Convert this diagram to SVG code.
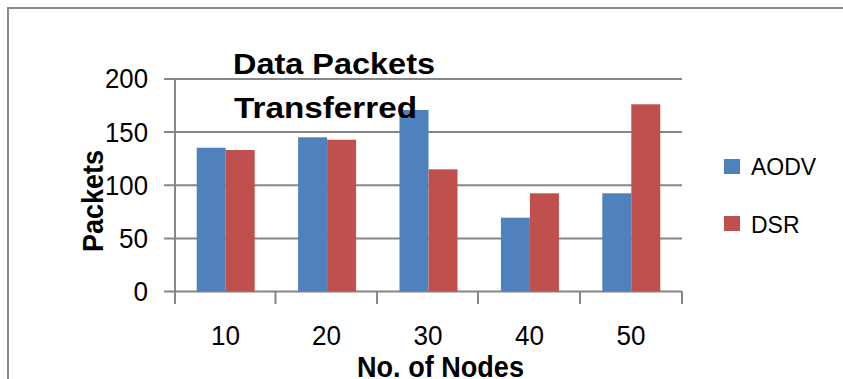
<svg xmlns="http://www.w3.org/2000/svg" width="843" height="379" viewBox="0 0 843 379">
<style>
text{font-family:"Liberation Sans",Arial,sans-serif;fill:#000}
.tick{font-size:28px}
.ytick{text-anchor:end}
.xtick{text-anchor:middle}
.bold{font-weight:bold;font-size:30px}
.leg{font-size:23px}
.grid{stroke:#868686;stroke-width:2;fill:none}
.aodv{fill:#4F81BD}
.dsr{fill:#C0504D}
</style>
<rect width="843" height="379" fill="#fff"/>
<rect x="8" y="8" width="850" height="390" fill="none" stroke="#8a8a8a" stroke-width="2"/>
<g id="grid">
<path class="grid" d="M164 79H682M164 132.1H682M164 185.2H682M164 238.4H682M164 291.5H682M175 79V304M275.5 291.5V304M377 291.5V304M478 291.5V304M580 291.5V304M682 291.5V304"/>
</g>
<g id="bars">
<rect class="aodv" x="196.7" y="147.7" width="29" height="143.8"/>
<rect class="dsr" x="225.7" y="150" width="29" height="141.5"/>
<rect class="aodv" x="298.1" y="137.3" width="29" height="154.2"/>
<rect class="dsr" x="327.1" y="139.7" width="29" height="151.8"/>
<rect class="aodv" x="399.5" y="110" width="29" height="181.5"/>
<rect class="dsr" x="428.5" y="169.3" width="29" height="122.2"/>
<rect class="aodv" x="500.9" y="217.7" width="29" height="73.8"/>
<rect class="dsr" x="529.9" y="193.3" width="29" height="98.2"/>
<rect class="aodv" x="602.3" y="193.3" width="29" height="98.2"/>
<rect class="dsr" x="631.3" y="104.3" width="29" height="187.2"/>
</g>
<g id="yticks" class="tick">
<text class="ytick" x="148" y="88" textLength="43" lengthAdjust="spacingAndGlyphs">200</text>
<text class="ytick" x="148" y="142" textLength="43" lengthAdjust="spacingAndGlyphs">150</text>
<text class="ytick" x="148" y="195" textLength="43" lengthAdjust="spacingAndGlyphs">100</text>
<text class="ytick" x="148" y="248" textLength="29" lengthAdjust="spacingAndGlyphs">50</text>
<text class="ytick" x="148" y="301" textLength="14.5" lengthAdjust="spacingAndGlyphs">0</text>
</g>
<g id="xticks" class="tick">
<text class="xtick" x="225.5" y="345" textLength="29" lengthAdjust="spacingAndGlyphs">10</text>
<text class="xtick" x="326.5" y="345" textLength="29" lengthAdjust="spacingAndGlyphs">20</text>
<text class="xtick" x="428" y="345" textLength="29" lengthAdjust="spacingAndGlyphs">30</text>
<text class="xtick" x="529.5" y="345" textLength="29" lengthAdjust="spacingAndGlyphs">40</text>
<text class="xtick" x="631" y="345" textLength="29" lengthAdjust="spacingAndGlyphs">50</text>
</g>
<g id="title">
<text class="bold" x="233" y="74" textLength="202" lengthAdjust="spacingAndGlyphs">Data Packets</text>
<text class="bold" x="234" y="118" textLength="183" lengthAdjust="spacingAndGlyphs">Transferred</text>
</g>
<g id="yaxis-title">
<text class="bold" font-size="27px" transform="translate(103,252) rotate(-90)" textLength="102" lengthAdjust="spacingAndGlyphs">Packets</text>
</g>
<g id="xaxis-title">
<text class="bold" x="357" y="377" textLength="167" lengthAdjust="spacingAndGlyphs">No. of Nodes</text>
</g>
<g id="legend">
<rect class="aodv" x="724" y="159" width="16" height="15"/>
<text class="leg" x="751" y="175">AODV</text>
<rect class="dsr" x="724" y="216" width="16" height="15"/>
<text class="leg" x="751" y="233">DSR</text>
</g>
</svg>
